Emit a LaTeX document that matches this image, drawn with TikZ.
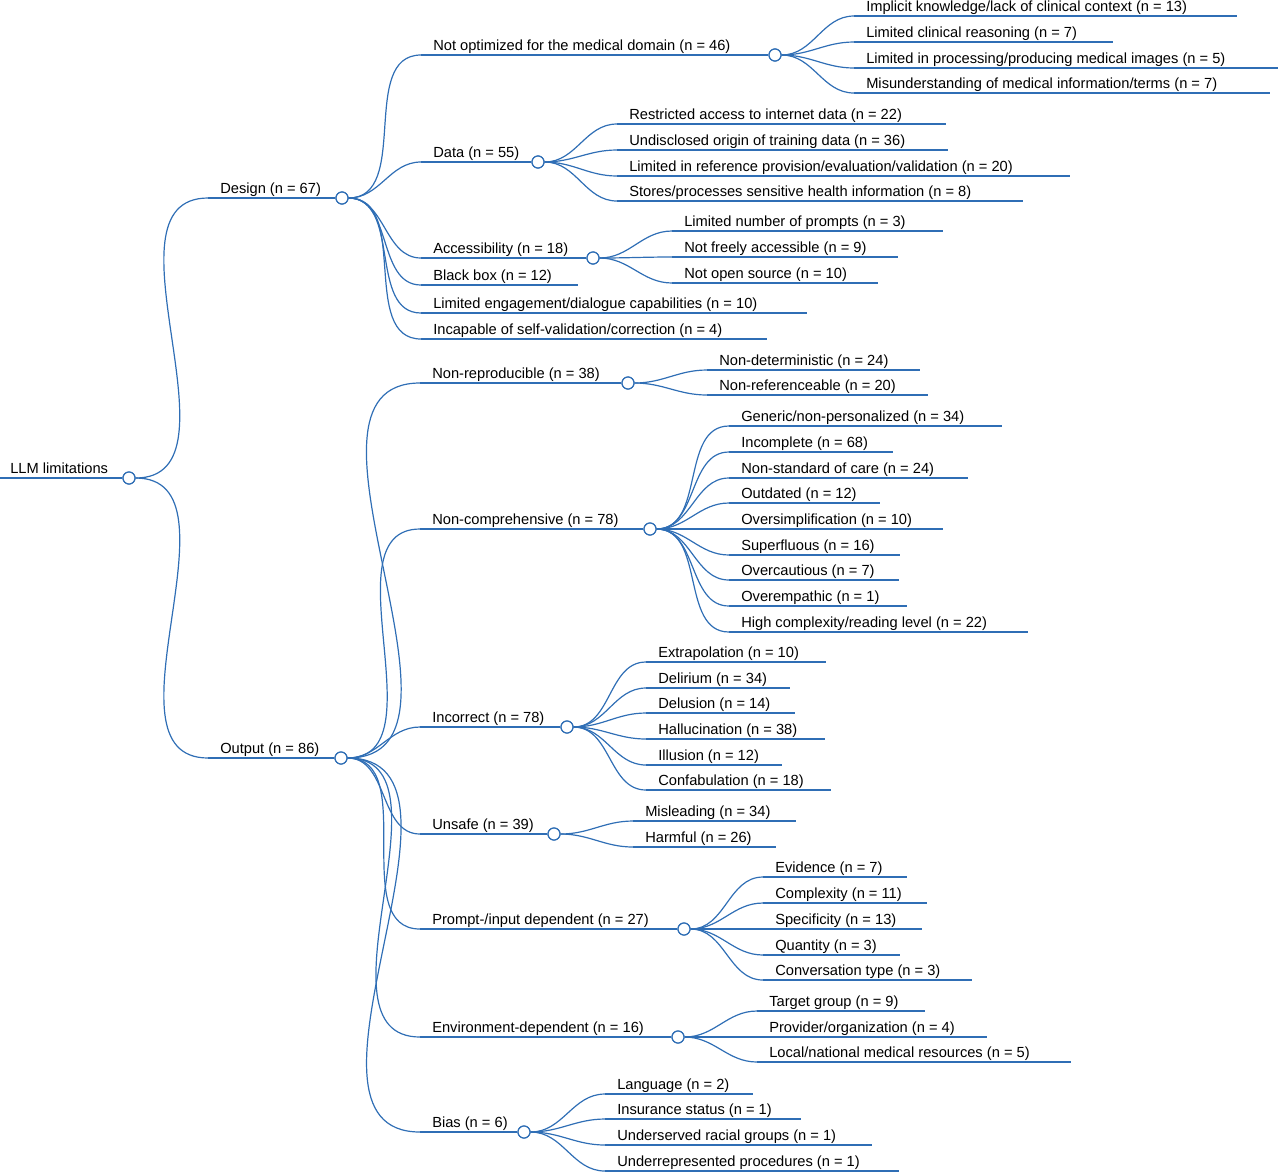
\documentclass[tikz,border=0pt]{standalone}
\usepackage{fontspec}
\setmainfont{Liberation Sans}
\definecolor{mapblue}{HTML}{2F6EB5}
\tikzset{
 ln/.style={mapblue,line width=0.9pt},
 lbl/.style={anchor=base west,inner sep=0pt,font=\fontsize{11}{12}\selectfont},
 knot/.style={circle,draw=mapblue,fill=white,line width=0.9pt,minimum size=9pt,inner sep=0pt}
}
% inner node with a knot at its right end
\newcommand\fork[5]{%
 \coordinate (#1-s) at (#2-12,#3);
 \node[lbl] (#1) at (#2,#3-5) {#5};
 \node[knot] (#1-e) at (#4,#3) {};
 \draw[ln] (#1-s) -- (#1-e.west);}
% leaf node, plain underline
\newcommand\leaf[5]{%
 \coordinate (#1-s) at (#2-12,#3);
 \node[lbl] (#1) at (#2,#3-5) {#5};
 \coordinate (#1-e) at (#4,#3);
 \draw[ln] (#1-s) -- (#1-e);}
\newcommand\link[2]{\draw[ln] (#1-e.east) to[out=0,in=180] (#2-s);}
\begin{document}
\begin{tikzpicture}[x=0.75pt,y=-0.75pt]
\useasboundingbox (0,0) rectangle (1280,1172);
% root
\coordinate (root-s) at (0,478);
\node[lbl] (root) at (10,473) {LLM limitations};
\node[knot] (root-e) at (129,478) {};
\draw[ln] (root-s) -- (root-e.west);
% design
\fork{des}{220}{198}{342}{Design (n = 67)}
\fork{opt}{433}{55}{775}{Not optimized for the medical domain (n = 46)}
\leaf{opt1}{866}{16}{1237}{Implicit knowledge/lack of clinical context (n = 13)}
\leaf{opt2}{866}{42}{1113}{Limited clinical reasoning (n = 7)}
\leaf{opt3}{866}{68}{1278}{Limited in processing/producing medical images (n = 5)}
\leaf{opt4}{866}{93}{1270}{Misunderstanding of medical information/terms (n = 7)}
\fork{dat}{433}{162}{538}{Data (n = 55)}
\leaf{dat1}{629}{124}{946}{Restricted access to internet data (n = 22)}
\leaf{dat2}{629}{150}{948}{Undisclosed origin of training data (n = 36)}
\leaf{dat3}{629}{176}{1070}{Limited in reference provision/evaluation/validation (n = 20)}
\leaf{dat4}{629}{201}{1023}{Stores/processes sensitive health information (n = 8)}
\fork{acc}{433}{258}{593}{Accessibility (n = 18)}
\leaf{acc1}{684}{231}{943}{Limited number of prompts (n = 3)}
\leaf{acc2}{684}{257}{898}{Not freely accessible (n = 9)}
\leaf{acc3}{684}{283}{878}{Not open source (n = 10)}
\leaf{blk}{433}{285}{578}{Black box (n = 12)}
\leaf{eng}{433}{313}{807}{Limited engagement/dialogue capabilities (n = 10)}
\leaf{val}{433}{339}{767}{Incapable of self-validation/correction (n = 4)}
% output
\fork{out}{220}{758}{341}{Output (n = 86)}
\fork{rep}{432}{383}{628}{Non-reproducible (n = 38)}
\leaf{rep1}{719}{370}{920}{Non-deterministic (n = 24)}
\leaf{rep2}{719}{395}{928}{Non-referenceable (n = 20)}
\fork{com}{432}{529}{650}{Non-comprehensive (n = 78)}
\leaf{com1}{741}{426}{1002}{Generic/non-personalized (n = 34)}
\leaf{com2}{741}{452}{893}{Incomplete (n = 68)}
\leaf{com3}{741}{478}{968}{Non-standard of care (n = 24)}
\leaf{com4}{741}{503}{880}{Outdated (n = 12)}
\leaf{com5}{741}{529}{943}{Oversimplification (n = 10)}
\leaf{com6}{741}{555}{900}{Superfluous (n = 16)}
\leaf{com7}{741}{580}{899}{Overcautious (n = 7)}
\leaf{com8}{741}{606}{907}{Overempathic (n = 1)}
\leaf{com9}{741}{632}{1028}{High complexity/reading level (n = 22)}
\fork{inc}{432}{727}{567}{Incorrect (n = 78)}
\leaf{inc1}{658}{662}{826}{Extrapolation (n = 10)}
\leaf{inc2}{658}{688}{790}{Delirium (n = 34)}
\leaf{inc3}{658}{713}{795}{Delusion (n = 14)}
\leaf{inc4}{658}{739}{825}{Hallucination (n = 38)}
\leaf{inc5}{658}{765}{782}{Illusion (n = 12)}
\leaf{inc6}{658}{790}{831}{Confabulation (n = 18)}
\fork{uns}{432}{834}{554}{Unsafe (n = 39)}
\leaf{uns1}{645}{821}{796}{Misleading (n = 34)}
\leaf{uns2}{645}{847}{776}{Harmful (n = 26)}
\fork{pro}{432}{929}{684}{Prompt-/input dependent (n = 27)}
\leaf{pro1}{775}{877}{907}{Evidence (n = 7)}
\leaf{pro2}{775}{903}{927}{Complexity (n = 11)}
\leaf{pro3}{775}{929}{922}{Specificity (n = 13)}
\leaf{pro4}{775}{955}{900}{Quantity (n = 3)}
\leaf{pro5}{775}{980}{972}{Conversation type (n = 3)}
\fork{env}{432}{1037}{678}{Environment-dependent (n = 16)}
\leaf{env1}{769}{1011}{925}{Target group (n = 9)}
\leaf{env2}{769}{1037}{987}{Provider/organization (n = 4)}
\leaf{env3}{769}{1062}{1071}{Local/national medical resources (n = 5)}
\fork{bia}{432}{1132}{524}{Bias (n = 6)}
\leaf{bia1}{617}{1094}{753}{Language (n = 2)}
\leaf{bia2}{617}{1119}{801}{Insurance status (n = 1)}
\leaf{bia3}{617}{1145}{872}{Underserved racial groups (n = 1)}
\leaf{bia4}{617}{1171}{899}{Underrepresented procedures (n = 1)}
% connectors
\foreach \p/\c in {root/des,root/out,
 des/opt,des/dat,des/acc,des/blk,des/eng,des/val,
 opt/opt1,opt/opt2,opt/opt3,opt/opt4,dat/dat1,dat/dat2,dat/dat3,dat/dat4,
 acc/acc1,acc/acc2,acc/acc3,
 out/rep,out/com,out/inc,out/uns,out/pro,out/env,out/bia,
 rep/rep1,rep/rep2,com/com1,com/com2,com/com3,com/com4,com/com5,com/com6,com/com7,com/com8,com/com9,
 inc/inc1,inc/inc2,inc/inc3,inc/inc4,inc/inc5,inc/inc6,uns/uns1,uns/uns2,
 pro/pro1,pro/pro2,pro/pro3,pro/pro4,pro/pro5,env/env1,env/env2,env/env3,
 bia/bia1,bia/bia2,bia/bia3,bia/bia4}
 {\link{\p}{\c}}
% knots on top of connectors
\foreach \k in {root,des,opt,dat,acc,out,rep,com,inc,uns,pro,env,bia}
 {\node[knot] at (\k-e) {};}
\end{tikzpicture}
\end{document}
